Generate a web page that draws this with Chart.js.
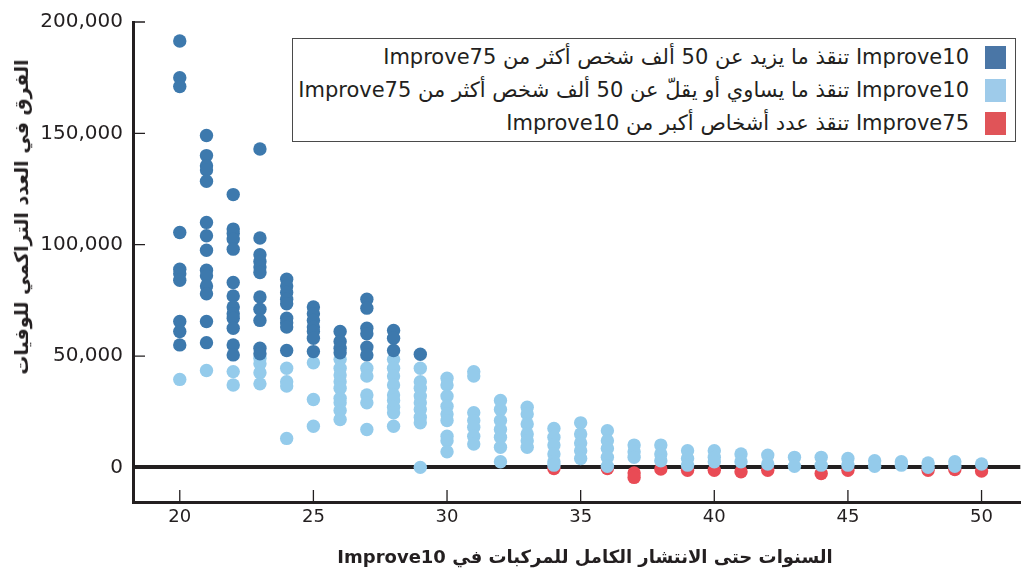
<!DOCTYPE html>
<html>
<head>
<meta charset="utf-8">
<script src="https://cdn.jsdelivr.net/npm/chart.js@4/dist/chart.umd.min.js"></script>
<style>
  body { margin: 0; background: #fff; }
  #wrap { position: relative; width: 1027px; height: 577px; }
  #legend {
    position: absolute; left: 292px; top: 38px; width: 724px; height: 104px;
    border: 1.5px solid #4a4a4a; background: #fff; box-sizing: border-box;
  }
  .row {
    position: absolute; right: 46px; direction: rtl; white-space: nowrap;
    font-family: "Liberation Sans Narrow", "DejaVu Sans", sans-serif;
    font-size: 21px; color: #231f20; line-height: 24px;
  }
  .sw { position: absolute; right: 9px; width: 21px; height: 23px; }
  #ytitle {
    position: absolute; left: 21px; top: 217px;
    transform: translate(-50%, -50%) rotate(-90deg);
    white-space: nowrap; direction: rtl;
    font-family: "DejaVu Sans", sans-serif; font-weight: bold; font-size: 19px; color: #231f20;
  }
  #xtitle {
    position: absolute; left: 585px; top: 556px;
    transform: translate(-50%, -50%);
    white-space: nowrap; direction: rtl;
    font-family: "DejaVu Sans", sans-serif; font-weight: bold; font-size: 18px; color: #231f20;
  }
</style>
</head>
<body>
<div id="wrap">
  <canvas id="scatterChart" width="1027" height="577"></canvas>
  <div id="ytitle">الفرق في العدد التراكمي للوفيات</div>
  <div id="xtitle"></div>
  <div id="legend"></div>
</div>
<script>
// years on the x axis, one column of points per year
const years = [20, 21, 22, 23, 24, 25, 26, 27, 28, 29, 30, 31, 32, 33, 34, 35,
  36, 37, 38, 39, 40, 41, 42, 43, 44, 45, 46, 47, 48, 49, 50]

// Improve10 saves more than 50k more people (dark blue)
const moreThan50k = [
  [191500, 175000, 171000, 105500, 89000, 87000, 84000, 65500, 61000, 55000],
  [149000, 140000, 135500, 133500, 128500, 110000, 104000, 97500, 88500, 86000, 81500, 78000, 65500, 56000],
  [122500, 107000, 105000, 102500, 98000, 83000, 77000, 72000, 69000, 67000, 62500, 55000, 50500],
  [143000, 103000, 95500, 92500, 90000, 87500, 76500, 71000, 66000, 53500, 51000],
  [84500, 81500, 78500, 75500, 73500, 67000, 65000, 63000, 52500],
  [72000, 69000, 66000, 63000, 61000, 58000, 52000],
  [61000, 56500, 53500, 51500],
  [75500, 71500, 62500, 60000, 54000, 50500],
  [61500, 58000, 52500],
  [50800]
]

// Improve10 saves 50k or fewer more people (light blue)
const upTo50k = [
  [39500],
  [43500],
  [43000, 37000],
  [49000, 46500, 42500, 37500],
  [44500, 38500, 36500, 13000],
  [47000, 30500, 18500],
  [48500, 44500, 41500, 38500, 35500, 31000, 29000, 25500, 21500],
  [44500, 41000, 32500, 29000, 17000],
  [48500, 44500, 41000, 37000, 32500, 30000, 27000, 24500, 18500],
  [44500, 38500, 35500, 32000, 29000, 26000, 22500, 20000, 0],
  [40000, 37000, 32000, 27500, 24000, 21000, 14000, 12000, 7000],
  [43000, 41000, 24500, 21000, 18000, 14000, 10500],
  [30000, 26000, 21000, 17000, 13500, 9000, 2500],
  [27000, 24000, 19500, 15000, 12000, 9000],
  [17500, 13500, 10000, 6000, 2500, 1000],
  [20000, 15000, 11000, 7500, 4000],
  [16500, 12000, 8500, 4500, 500],
  [10000, 7000, 4500],
  [10000, 6000, 3000],
  [7500, 4000, 1000],
  [7500, 4500, 2500],
  [6000, 2500],
  [5500, 1500],
  [4500, 500],
  [4500, 1000],
  [4000, 1000],
  [3000, 500],
  [2500, 1000],
  [2000, 0],
  [2500, 500],
  [1500]
]

// Improve75 saves more people (red)
const improve75Better = [
  [], [], [], [], [], [], [], [], [], [], [], [], [], [],
  [-500], [], [-500], [-2500, -4500], [-700], [-1300], [-1300], [-2000], [-1300], [],
  [-2800], [-1300], [], [], [-1300], [-1000], [-1600]
]

const xTicks = [20, 25, 30, 35, 40, 45, 50]
const yTicks = [0, 50000, 100000, 150000, 200000]

const seriesLabels = [
  "Improve10 تنقذ ما يزيد عن 50 ألف شخص أكثر من Improve75",
  "Improve10 تنقذ ما يساوي أو يقلّ عن 50 ألف شخص أكثر من Improve75",
  "Improve75 تنقذ عدد أشخاص أكبر من Improve10"
]
const xTitle = "السنوات حتى الانتشار الكامل للمركبات في Improve10"

const pointColors = ["#3d79ad", "#94cbeb", "#e94b55"]
const swatchColors = ["#4a76a6", "#9ecbea", "#e05458"]
const ink = "#231f20"

function toPoints(columns) {
  const pts = []
  columns.forEach((vals, i) => {
    vals.forEach((v) => pts.push({ x: years[i], y: v }))
  })
  return pts
}

// tick marks pointing into the plot
const innerTicks = {
  id: "innerTicks",
  beforeDatasetsDraw(chart) {
    const { ctx, chartArea, scales } = chart
    ctx.save()
    ctx.strokeStyle = ink
    ctx.lineWidth = 1.3
    ctx.beginPath()
    xTicks.forEach((t) => {
      const px = scales.x.getPixelForValue(t)
      ctx.moveTo(px, chartArea.bottom)
      ctx.lineTo(px, chartArea.bottom - 12)
    })
    yTicks.forEach((t) => {
      const py = scales.y.getPixelForValue(t)
      ctx.moveTo(chartArea.left, py)
      ctx.lineTo(chartArea.left + 12, py)
    })
    ctx.stroke()
    ctx.restore()
  },
}

const ctx = document.getElementById("scatterChart").getContext("2d")
const scatterChart = new Chart(ctx, {
  type: "scatter",
  data: {
    datasets: [
      { label: seriesLabels[0], data: toPoints(moreThan50k), backgroundColor: pointColors[0] },
      { label: seriesLabels[1], data: toPoints(upTo50k), backgroundColor: pointColors[1] },
      { label: seriesLabels[2], data: toPoints(improve75Better), backgroundColor: pointColors[2] },
    ],
  },
  options: {
    responsive: false,
    animation: false,
    layout: { padding: { top: 17, right: 5, left: 0, bottom: 0 } },
    elements: { point: { radius: 6.7, borderWidth: 0, hoverRadius: 6.7 } },
    plugins: { legend: { display: false }, tooltip: { enabled: false } },
    scales: {
      x: {
        type: "linear",
        min: 18.25,
        max: 51.45,
        afterBuildTicks: (s) => { s.ticks = xTicks.map((v) => ({ value: v })) },
        afterFit: (s) => { s.height = 75 },
        grid: { display: false, drawTicks: false },
        border: { display: true, color: ink, width: 3 },
        ticks: {
          color: ink,
          padding: 5,
          font: { family: "'Liberation Sans Narrow', 'DejaVu Sans'", size: 18 },
        },
      },
      y: {
        min: -15550,
        max: 200000,
        afterBuildTicks: (s) => { s.ticks = yTicks.map((v) => ({ value: v })) },
        afterFit: (s) => { s.width = 133 },
        grid: {
          drawTicks: false,
          color: (c) => (c.tick && c.tick.value === 0 ? ink : "rgba(0,0,0,0)"),
          lineWidth: (c) => (c.tick && c.tick.value === 0 ? 4 : 0),
        },
        border: { display: true, color: ink, width: 3 },
        ticks: {
          color: ink,
          padding: 10,
          font: { family: "'DejaVu Sans'", size: 20 },
          callback: (v) => v.toLocaleString("en-US"),
        },
      },
    },
  },
  plugins: [innerTicks],
})

document.getElementById("xtitle").textContent = xTitle

// legend box drawn over the top right of the plot
const legendBox = document.getElementById("legend")
const rowTops = [6, 39, 72]
seriesLabels.forEach((text, i) => {
  const row = document.createElement("div")
  row.className = "row"
  row.style.top = rowTops[i] + "px"
  row.textContent = text
  legendBox.appendChild(row)
  const sw = document.createElement("div")
  sw.className = "sw"
  sw.style.top = (rowTops[i] + 1) + "px"
  sw.style.background = swatchColors[i]
  legendBox.appendChild(sw)
})
</script>
</body>
</html>
